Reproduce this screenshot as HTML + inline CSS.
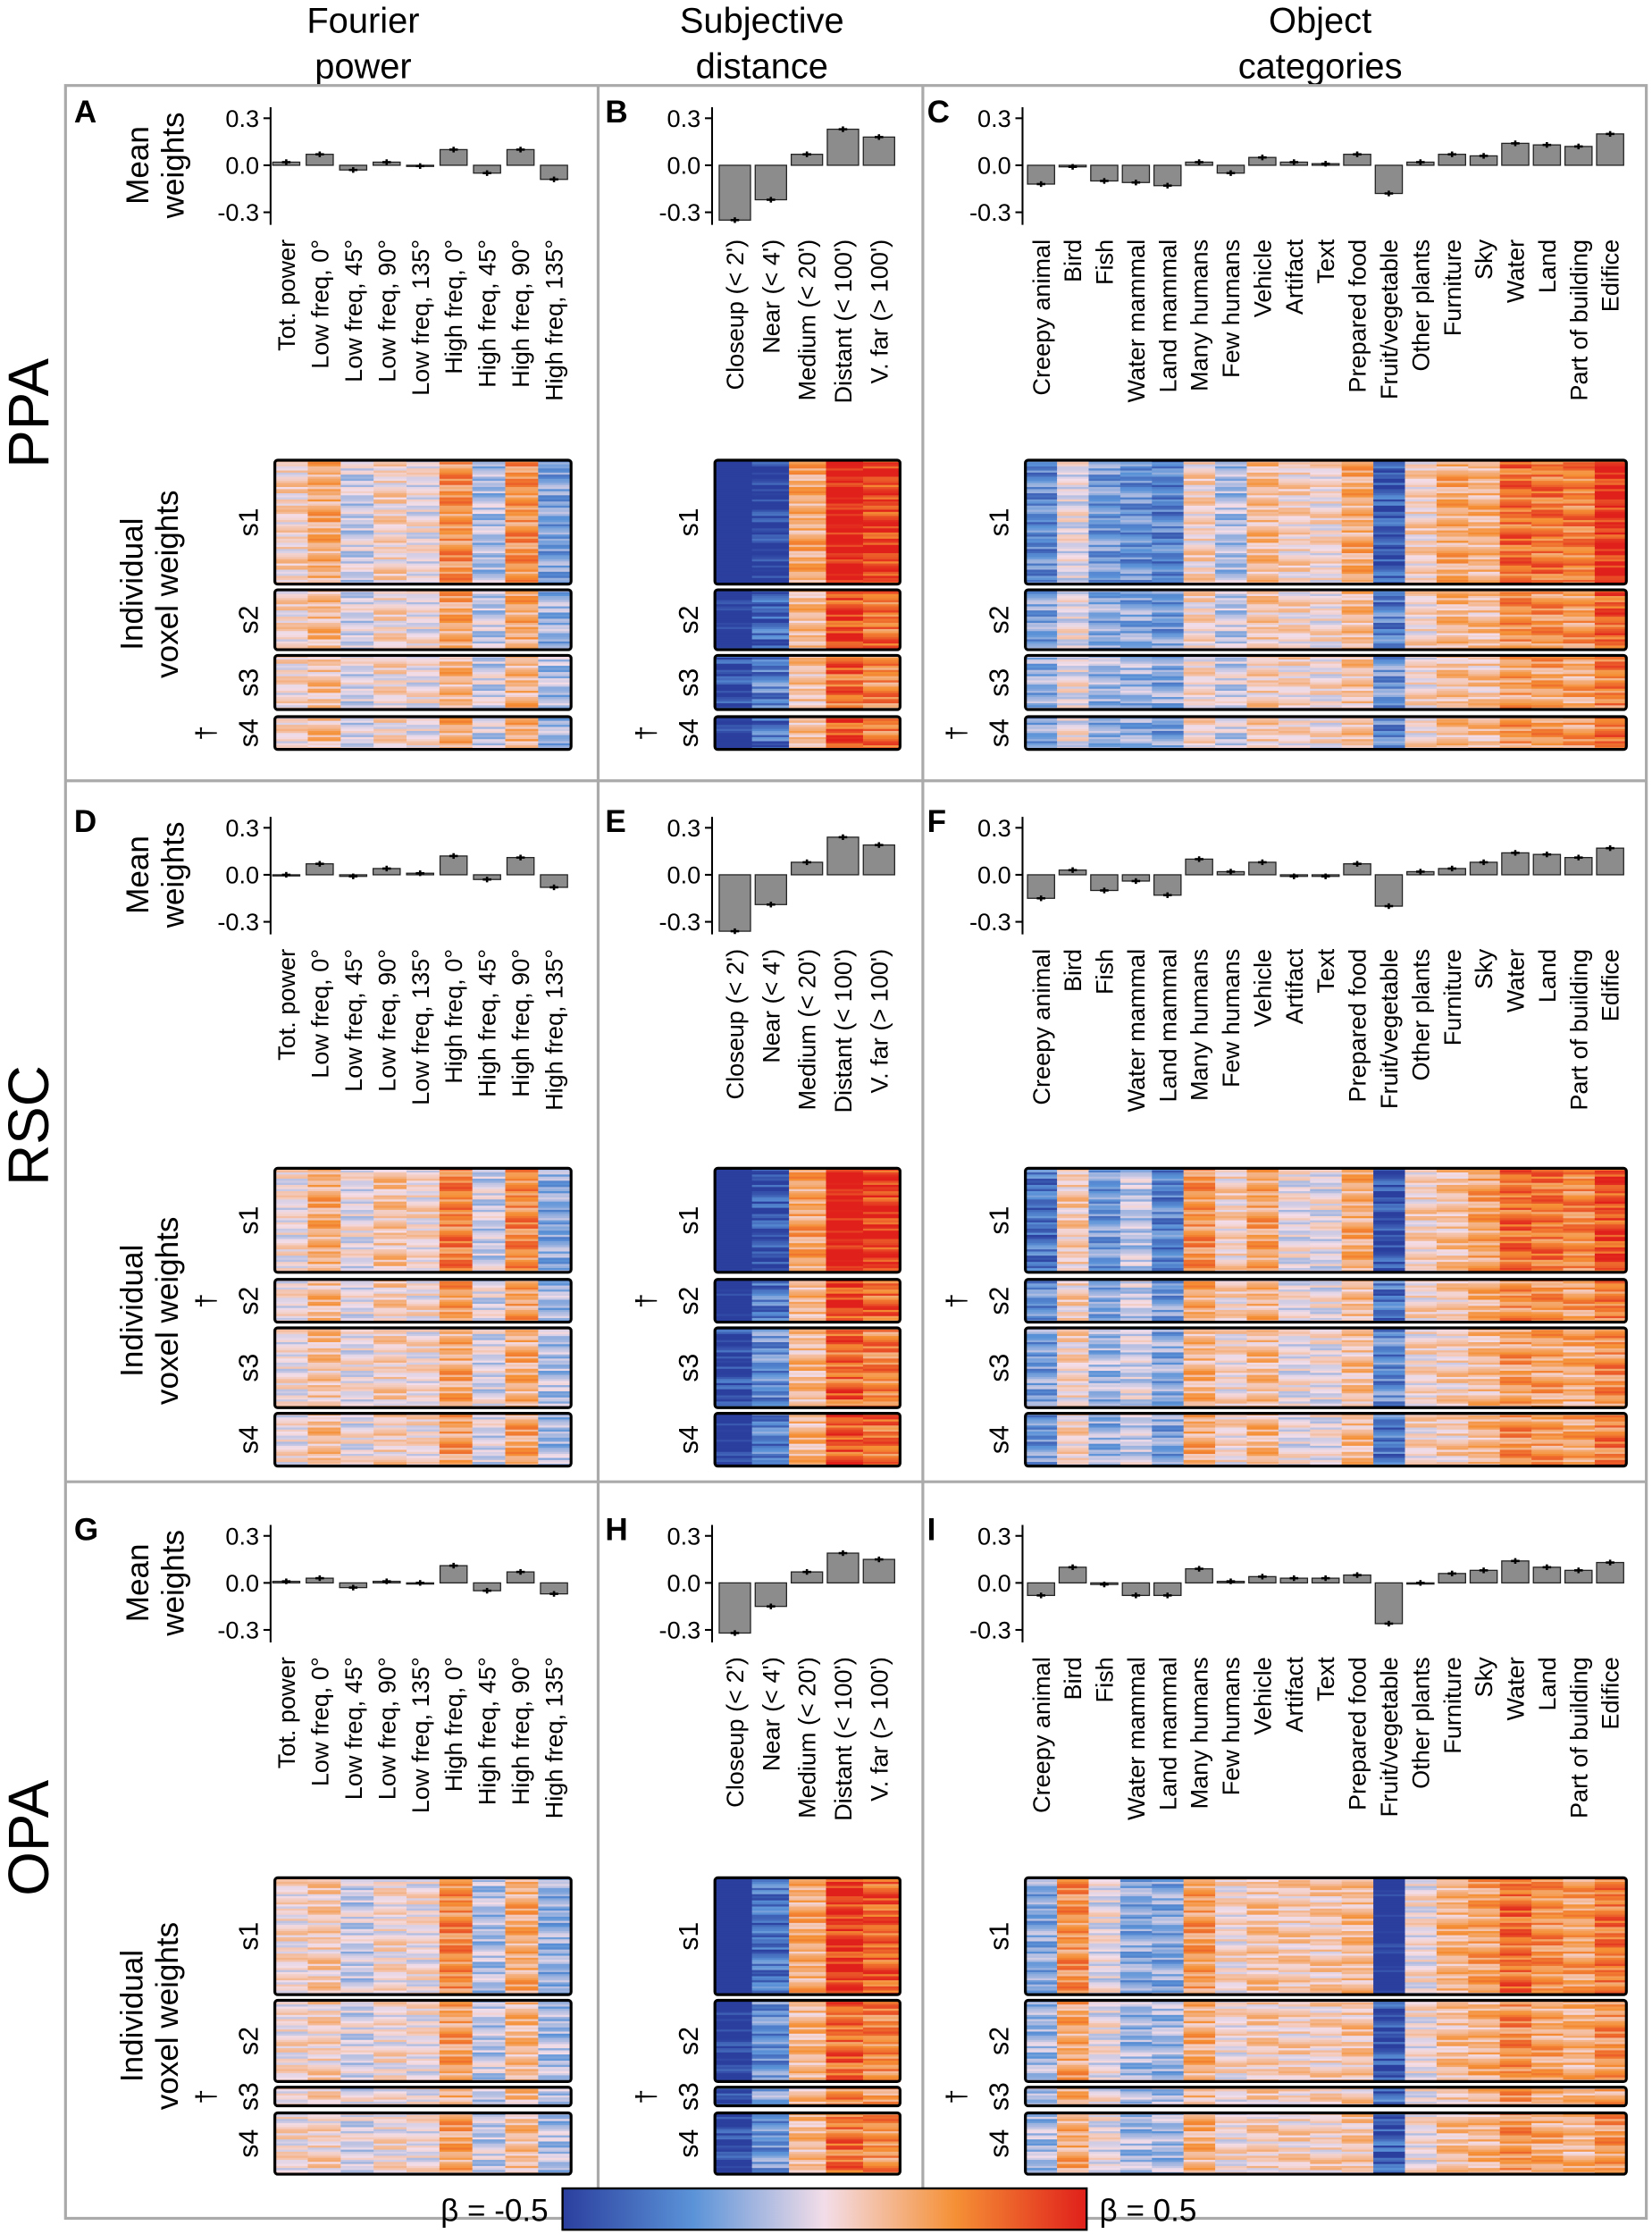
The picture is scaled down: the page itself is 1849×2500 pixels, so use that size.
<!DOCTYPE html>
<html><head><meta charset="utf-8"><style>
html,body{margin:0;padding:0;background:#fff}
svg{display:block}
text{font-family:"Liberation Sans",Arial,sans-serif;fill:#000}
</style></head><body>
<svg id="fig" xmlns="http://www.w3.org/2000/svg" width="1849" height="2500" viewBox="0 0 1160 1568" preserveAspectRatio="none">
<defs>
<linearGradient id="cbar" x1="0" x2="1" y1="0" y2="0">
<stop offset="0" stop-color="#2b3f9e"/><stop offset="0.25" stop-color="#5b93d8"/><stop offset="0.5" stop-color="#f3dde8"/><stop offset="0.75" stop-color="#f59035"/><stop offset="1" stop-color="#e0201b"/>
</linearGradient>
</defs>
<g id="root"></g>
</svg>
<script>
// ---- data ----
const fourierLabels=["Tot. power","Low freq, 0°","Low freq, 45°","Low freq, 90°","Low freq, 135°","High freq, 0°","High freq, 45°","High freq, 90°","High freq, 135°"];
const distLabels=["Closeup (< 2')","Near (< 4')","Medium (< 20')","Distant (< 100')","V. far (> 100')"];
const objLabels=["Creepy animal","Bird","Fish","Water mammal","Land mammal","Many humans","Few humans","Vehicle","Artifact","Text","Prepared food","Fruit/vegetable","Other plants","Furniture","Sky","Water","Land","Part of building","Edifice"];
const tickValues=[0.3,0.0,-0.3];
const tickLabels=["0.3","0.0","-0.3"];
const valsA=[0.02,0.07,-0.03,0.02,-0.005,0.10,-0.05,0.10,-0.09];
const valsB=[-0.35,-0.22,0.07,0.23,0.18];
const valsC=[-0.12,-0.01,-0.10,-0.11,-0.13,0.02,-0.05,0.05,0.02,0.01,0.07,-0.18,0.02,0.07,0.06,0.14,0.13,0.12,0.20];
const valsD=[0.0,0.07,-0.01,0.04,0.01,0.12,-0.03,0.11,-0.08];
const valsE=[-0.36,-0.19,0.08,0.24,0.19];
const valsF=[-0.15,0.03,-0.10,-0.04,-0.13,0.10,0.02,0.08,-0.01,-0.01,0.07,-0.20,0.02,0.04,0.08,0.14,0.13,0.11,0.17];
const valsG=[0.01,0.03,-0.03,0.01,0.0,0.11,-0.05,0.07,-0.07];
const valsH=[-0.32,-0.15,0.07,0.19,0.15];
const valsI=[-0.08,0.10,-0.01,-0.08,-0.08,0.09,0.01,0.04,0.03,0.03,0.05,-0.26,0.0,0.06,0.08,0.14,0.10,0.08,0.13];
const stripeOffsets=[0.12,-0.2,0.05,0.22,-0.08,-0.25,0.18,0.0,-0.14,0.09,0.25,-0.04,-0.18,0.15,0.03,-0.22,0.2,-0.1,0.07,-0.02,0.24,-0.16,0.11,-0.06,0.19,-0.24,0.01,0.14,-0.12,0.06,-0.19,0.23,-0.03,0.1,-0.09,0.17,-0.15];
const regionNames=["PPA","RSC","OPA"];
const columnTitles=[["Fourier","power"],["Subjective","distance"],["Object","categories"]];

const NS='http://www.w3.org/2000/svg';
const root=document.getElementById('root');
function mk(tag,attrs,parent){const e=document.createElementNS(NS,tag);for(const k in attrs)e.setAttribute(k,attrs[k]);(parent||root).appendChild(e);return e;}
function txt(s,attrs,parent){const e=mk('text',attrs,parent);e.textContent=s;return e;}

function lerp(a,b,t){return a+(b-a)*t;}
const stops=[[-0.5,[43,63,158]],[-0.25,[91,147,216]],[0,[243,221,232]],[0.25,[245,144,53]],[0.5,[224,32,27]]];
function cmap(v){v=Math.max(-0.5,Math.min(0.5,v));for(let i=0;i<stops.length-1;i++){const a=stops[i],b=stops[i+1];if(v<=b[0]){const t=(v-a[0])/(b[0]-a[0]);return 'rgb('+a[1].map((c,j)=>Math.round(lerp(c,b[1][j],t))).join(',')+')';}}return 'rgb(224,32,27)';}

const cols=[
 {axisX:190,first:201,step:23.5,w:19,hm:[193,401],labels:fourierLabels},
 {axisX:500,first:516,step:25.3,w:22,hm:[502,632],labels:distLabels},
 {axisX:718,first:731,step:22.2,w:19,hm:[720,1142],labels:objLabels}
];
const rows=[
 {zero:116,hm:[[323,410],[414,456],[460,498],[503,526]],dagger:3,ivY:410,regY:290,letters:["A","B","C"],vals:[valsA,valsB,valsC]},
 {zero:614,hm:[[820,893],[898,928],[932,988],[992,1029]],dagger:1,ivY:920,regY:790,letters:["D","E","F"],vals:[valsD,valsE,valsF]},
 {zero:1111,hm:[[1318,1400],[1404,1461],[1465,1478],[1483,1526]],dagger:2,ivY:1415,regY:1290,letters:["G","H","I"],vals:[valsG,valsH,valsI]}
];
const yScale=110;
const letterX=[52,425,651];

columnTitles.forEach((t,i)=>{
 const cx=[255,535,927][i];
 const g=mk('g',{});
 
 
 txt(t[0],{x:cx,y:23,'font-size':25,'text-anchor':'middle'},g);
 txt(t[1],{x:cx,y:55,'font-size':25,'text-anchor':'middle'},g);
});
const frame=mk('rect',{x:46,y:60,width:1110,height:1497,fill:'none',stroke:'#aaa','stroke-width':2});


[420,648].forEach(x=>{const l=mk('line',{x1:x,x2:x,y1:60,y2:1557,stroke:'#aaa','stroke-width':2});
 
 });
[548,1040].forEach(y=>{const l=mk('line',{x1:46,x2:1156,y1:y,y2:y,stroke:'#aaa','stroke-width':2});
 
 });

rows.forEach((r,ri)=>{
 const reg=txt(regionNames[ri],{x:0,y:0,'font-size':40,'text-anchor':'middle',transform:`translate(34,${r.regY}) rotate(-90)`});
 
 
 const mw=mk('g',{transform:`translate(0,${r.zero}) rotate(-90)`});
 
 
 txt('Mean',{x:0,y:104,'font-size':22,'text-anchor':'middle'},mw);
 txt('weights',{x:0,y:129,'font-size':22,'text-anchor':'middle'},mw);
 const iv=mk('g',{transform:`translate(0,${r.ivY}) rotate(-90)`});
 
 
 txt('Individual',{x:0,y:100,'font-size':22,'text-anchor':'middle'},iv);
 txt('voxel weights',{x:0,y:125,'font-size':22,'text-anchor':'middle'},iv);

 cols.forEach((c,ci)=>{
  const vals=r.vals[ci];
  const g=mk('g',{});
  
  
  const L=txt(r.letters[ci],{x:letterX[ci],y:r.zero-30,'font-size':22,'font-weight':'bold'},g);
  
  
  const y=v=>r.zero-v*yScale;
  const ax=mk('line',{x1:c.axisX,x2:c.axisX,y1:y(0.37),y2:y(-0.38),stroke:'#000','stroke-width':1.3},g);
  
  
  tickValues.forEach((tv,ti)=>{
   mk('line',{x1:c.axisX-5,x2:c.axisX,y1:y(tv),y2:y(tv),stroke:'#000','stroke-width':1.3},g);
   const tl=txt(tickLabels[ti],{x:c.axisX-8,y:y(tv)+6,'font-size':17,'text-anchor':'end'},g);
   
   
  });
  vals.forEach((v,i)=>{
   const cx=c.first+i*c.step;
   const b=mk('rect',{x:cx-c.w/2,y:Math.min(y(v),y(0)),width:c.w,height:Math.max(Math.abs(y(v)-y(0)),0.8),fill:'#8c8c8c',stroke:'#222','stroke-width':0.8},g);
   
   
   const e=0.018;
   mk('line',{x1:cx,x2:cx,y1:y(v+e),y2:y(v-e),stroke:'#000','stroke-width':1.6},g);
   mk('line',{x1:cx-3,x2:cx+3,y1:y(v),y2:y(v),stroke:'#000','stroke-width':1.6},g);
   const lab=txt(c.labels[i],{x:0,y:0,'font-size':17,'text-anchor':'end',transform:`translate(${cx+6},${r.zero+52}) rotate(-90)`},g);
   
   
  });
  const n=vals.length,cw=(c.hm[1]-c.hm[0])/n;
  r.hm.forEach((h,si)=>{
   const hg=mk('g',{},g);
   
   
   const nr=Math.round((h[1]-h[0])/1.45);
   const rh=(h[1]-h[0])/nr;
   const scale=[1,0.75,0.6,0.7][si];
   for(let rr=0;rr<nr;rr++){
    for(let k=0;k<n;k++){
     const off=stripeOffsets[(rr*7+k*13+si*5+ri*3)%stripeOffsets.length];
     const v=vals[k]*2.3*scale+off*(0.45+0.3*Math.abs(vals[k]*3));
     mk('rect',{x:c.hm[0]+k*cw,y:h[0]+rr*rh,width:cw+0.3,height:rh+0.3,fill:cmap(v)},hg);
    }
   }
   mk('rect',{x:c.hm[0],y:h[0],width:c.hm[1]-c.hm[0],height:h[1]-h[0],fill:'none',stroke:'#000','stroke-width':2,rx:2},hg);
   const sl=txt('s'+(si+1),{x:0,y:0,'font-size':19,'text-anchor':'middle',transform:`translate(${c.hm[0]-12},${(h[0]+h[1])/2}) rotate(-90)`},g);
   
   
   if(si===r.dagger){
    const d=txt('†',{x:0,y:0,'font-size':19,'text-anchor':'middle',transform:`translate(${c.hm[0]-42},${(h[0]+h[1])/2}) rotate(-90)`},g);
    
    
   }
  });
 });
});
const cb=mk('rect',{x:395,y:1536,width:368,height:29,fill:'url(#cbar)',stroke:'#000','stroke-width':1.5});


const cl=txt('β = -0.5',{x:385,y:1559,'font-size':22,'text-anchor':'end'});


const ch=txt('β = 0.5',{x:772,y:1559,'font-size':22});


</script>
</body></html>
